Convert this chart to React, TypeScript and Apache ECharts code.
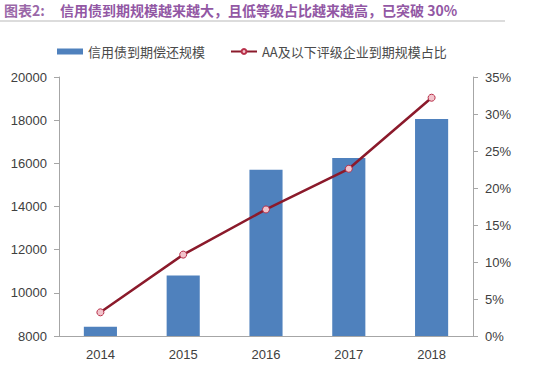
import React, { useEffect, useRef } from "react";
import * as echarts from "echarts";

const categories = ["2014", "2015", "2016", "2017", "2018"];
const maturityScale = [8430, 10800, 15700, 16250, 18050];
const lowRatingShare = [3.2, 11.0, 17.1, 22.6, 32.2];
const barName = "信用债到期偿还规模";
const lineName = "AA及以下评级企业到期规模占比";
const titlePrefix = "图表2:";
const titleText = "信用债到期规模越来越大，且低等级占比越来越高，已突破 30%";

export default function App() {
  const ref = useRef<HTMLDivElement>(null);
  useEffect(() => {
    if (!ref.current) return;
    const chart = echarts.init(ref.current, null, { renderer: "svg" });
    const font = "'Liberation Sans', 'Noto Sans CJK SC', sans-serif";
    chart.setOption({
      animation: false,
      backgroundColor: "#ffffff",
      textStyle: { fontFamily: font },
      graphic: [
        {
          type: "text",
          left: 4,
          top: 3,
          style: {
            text: titlePrefix,
            fill: "#9a68a8",
            font: "bold 14px 'Noto Sans CJK SC', sans-serif",
          },
        },
        {
          type: "text",
          left: 60,
          top: 3,
          style: {
            text: titleText,
            fill: "#9257a4",
            font: "bold 14px 'Noto Sans CJK SC', sans-serif",
          },
        },
        {
          type: "line",
          shape: { x1: 0, y1: 21, x2: 505, y2: 21 },
          style: { stroke: "#dcdcdc", lineWidth: 2 },
        },
      ],
      legend: {
        top: 40,
        left: 52,
        itemGap: 25,
        itemWidth: 26,
        itemHeight: 6,
        textStyle: {
          fontSize: 13,
          color: "#4a4a4a",
          fontFamily: "'Noto Sans CJK SC', sans-serif",
        },
        data: [
          { name: barName, icon: "rect" },
          { name: lineName },
        ],
      },
      grid: { left: 59, right: 72, top: 77, bottom: 41 },
      xAxis: {
        type: "category",
        data: categories,
        axisLine: { lineStyle: { color: "#a6a6a6" } },
        axisTick: { length: 5, lineStyle: { color: "#a6a6a6" } },
        axisLabel: { color: "#404040", fontSize: 13, margin: 12 },
      },
      yAxis: [
        {
          type: "value",
          min: 8000,
          max: 20000,
          interval: 2000,
          splitLine: { show: false },
          axisLine: { show: true, lineStyle: { color: "#a6a6a6" } },
          axisTick: { show: true, length: 5, lineStyle: { color: "#a6a6a6" } },
          axisLabel: {
            color: "#404040",
            fontSize: 13,
            margin: 12,
            formatter: (v: number) => String(v),
          },
        },
        {
          type: "value",
          min: 0,
          max: 35,
          interval: 5,
          position: "right",
          splitLine: { show: false },
          axisLine: { show: true, lineStyle: { color: "#a6a6a6" } },
          axisTick: { show: true, length: 5, lineStyle: { color: "#a6a6a6" } },
          axisLabel: { color: "#404040", fontSize: 13, margin: 12, formatter: "{value}%" },
        },
      ],
      series: [
        {
          name: barName,
          type: "bar",
          data: maturityScale,
          barWidth: "40%",
          itemStyle: { color: "#4f81bd" },
        },
        {
          name: lineName,
          type: "line",
          yAxisIndex: 1,
          data: lowRatingShare,
          symbol: "circle",
          symbolSize: 7,
          lineStyle: { color: "#8b1a2b", width: 2.5 },
          itemStyle: { color: "#f2c4cc", borderColor: "#b8304a", borderWidth: 1 },
        },
      ],
    });
    return () => chart.dispose();
  }, []);
  return (
    <div
      ref={ref}
      style={{ position: "absolute", left: 0, top: 0, width: 545, height: 377 }}
    />
  );
}
